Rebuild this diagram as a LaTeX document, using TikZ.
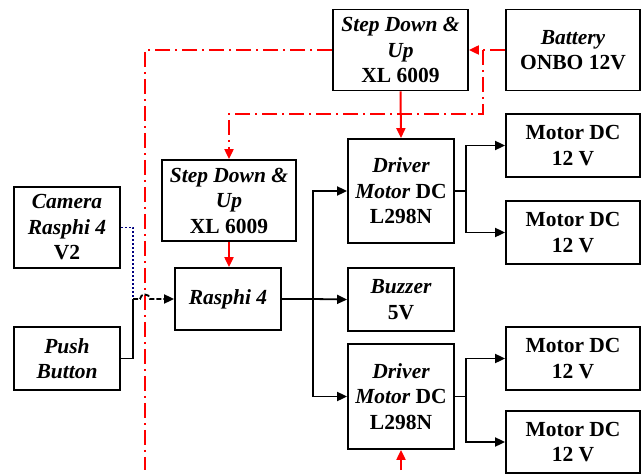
\documentclass[tikz,border=0pt]{standalone}
\usepackage{fontspec}
\setmainfont{Liberation Serif}
\usetikzlibrary{arrows.meta}
\begin{document}
\begin{tikzpicture}[x=1pt,y=-1pt,
  blk/.style={draw=black,line width=1.8pt,align=center,inner sep=0pt,
    font=\fontsize{21.5}{25.5}\selectfont\bfseries},
  wide/.style={blk,minimum width=134pt},
  narrow/.style={blk,minimum width=106pt},
  conn/.style={line width=1.8pt,-{Triangle[length=10pt,width=9pt]}},
  pwr/.style={draw=red,line width=2pt,dash pattern=on 15pt off 5pt on 2pt off 5pt},
  pwrarrow/.style={pwr,-{Triangle[length=10pt,width=9pt]}},
  redarrow/.style={draw=red,line width=2pt,-{Triangle[length=10pt,width=9pt]}}
]
\useasboundingbox (0,0) rectangle (642,476);
\node[wide,minimum width=135pt,minimum height=81pt] (sd1) at (400.5,50) {\itshape Step Down \&\\\itshape Up\\XL 6009};
\node[wide,minimum height=81pt] (bat) at (573,50) {\itshape Battery\\ONBO 12V};
\node[narrow,minimum height=104pt] (d1) at (401,191) {\itshape Driver\\\itshape Motor\upshape{} DC\\L298N};
\node[wide,minimum height=63pt] (m1) at (573,145.5) {Motor DC\\12 V};
\node[wide,minimum height=63pt] (m2) at (573,232.5) {Motor DC\\12 V};
\node[wide,minimum height=81pt] (sd2) at (229,200.5) {\itshape Step Down \&\\\itshape Up\\XL 6009};
\node[narrow,minimum height=81pt] (cam) at (67,227.5) {\itshape Camera\\\itshape Rasphi 4\\V2};
\node[narrow,minimum height=63pt] (push) at (67,358.5) {\itshape Push\\\itshape Button};
\node[narrow,minimum height=62pt] (ras) at (228,299) {\itshape Rasphi 4};
\node[narrow,minimum height=63pt] (buz) at (401,299.5) {\itshape Buzzer\\5V};
\node[narrow,minimum height=105pt] (d2) at (401,396.5) {\itshape Driver\\\itshape Motor\upshape{} DC\\L298N};
\node[wide,minimum height=63pt] (m3) at (573,358.5) {Motor DC\\12 V};
\node[wide,minimum height=62pt] (m4) at (573,442) {Motor DC\\12 V};

\coordinate (redend) at (145,470);
\coordinate (redbot) at (401,470);
\coordinate (bsplit) at (483,50);
\coordinate (join) at (133,299);
\coordinate (rsplit) at (313,299);
\coordinate (dsplit1) at (466,191);
\coordinate (dsplit2) at (466,396.5);

% power lines
\draw[pwr] (sd1.west) -- (redend |- sd1.west) -- (redend);
\draw[pwrarrow] (bat.west) -- (sd1.east);
\draw[pwrarrow] (bsplit) -- (483,114) -- (sd2.north |- 0,114) -- (sd2.north);
\draw[redarrow] (sd1.south) -- (d1.north);
\draw[redarrow] (sd2.south) -- (sd2.south |- ras.north);
\draw[redarrow] (redbot) -- (d2.south);

% inputs
\draw[blue!50!black,line width=1.8pt,dash pattern=on 2pt off 2pt] (cam.east |- 0,227.5) -- (join |- 0,227.5) -- (join);
\draw[line width=1.8pt] (push.east) -- (join |- push.east) -- (join);
\draw[conn,dash pattern=on 5pt off 2pt] (join) -- (140,299) .. controls (140,293) and (150,293) .. (150,299) -- (ras.west);

% outputs
\draw[line width=1.8pt] (ras.east) -- (rsplit);
\draw[conn] (rsplit) -- (buz.west);
\draw[conn] (rsplit) |- (d1.west);
\draw[conn] (rsplit) |- (d2.west);
\draw[line width=1.8pt] (d1.east) -- (dsplit1);
\draw[conn] (dsplit1) |- (m1.west);
\draw[conn] (dsplit1) |- (m2.west);
\draw[line width=1.8pt] (d2.east) -- (dsplit2);
\draw[conn] (dsplit2) |- (m3.west);
\draw[conn] (dsplit2) |- (m4.west);
\end{tikzpicture}
\end{document}
